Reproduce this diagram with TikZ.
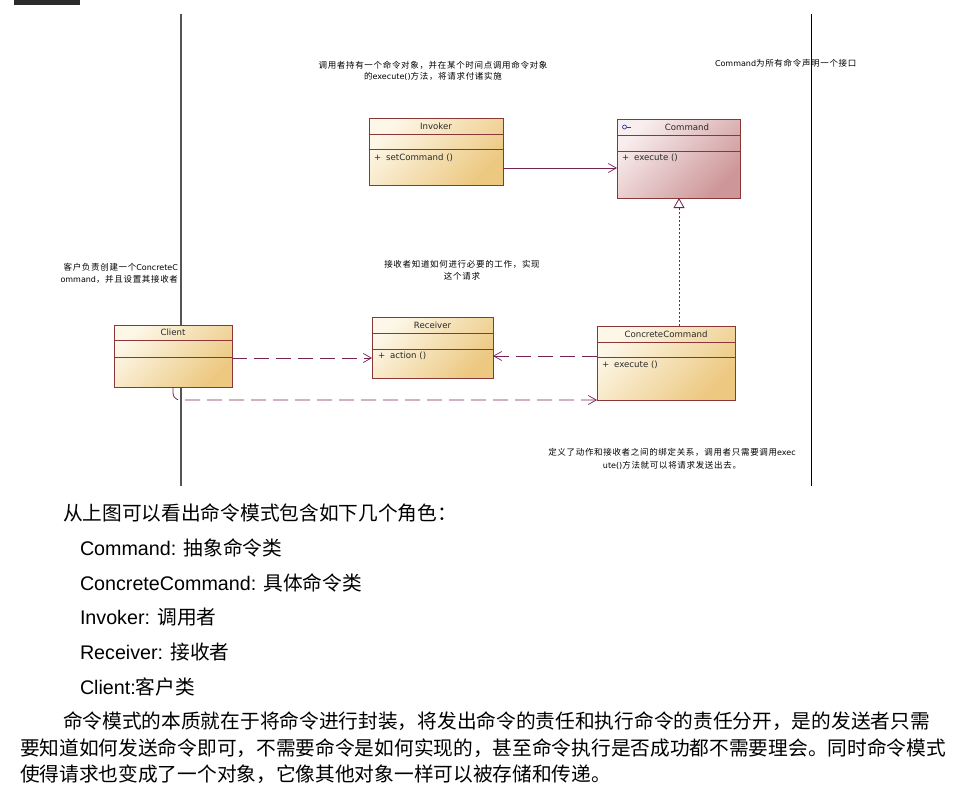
\documentclass[tikz,border=0pt]{standalone}
\usepackage{fontspec}
\setmainfont{Liberation Sans}
\newfontfamily\cjk{Noto Sans CJK SC}
\newfontfamily\cjknote[LetterSpace=8]{Noto Sans CJK SC}
\newfontfamily\uml{DejaVu Sans}
\usetikzlibrary{arrows.meta}

\definecolor{cream}{RGB}{253,247,232}
\definecolor{tan}{RGB}{236,200,128}
\definecolor{rosel}{RGB}{249,238,238}
\definecolor{rosed}{RGB}{205,150,152}
\definecolor{boxedge}{RGB}{140,55,55}
\definecolor{link}{RGB}{120,35,85}
\definecolor{ink}{RGB}{40,40,40}
\definecolor{bar}{RGB}{43,43,43}
\definecolor{rule}{RGB}{85,85,85}
\definecolor{iface}{RGB}{40,60,170}

\begin{document}
\begin{tikzpicture}[x=1pt,y=-1pt,
  every node/.style={inner sep=0pt, outer sep=0pt},
  classbox/.style={draw=boxedge, line width=0.9pt, rectangle, anchor=north west,
    top color=cream, bottom color=tan, shading angle=45},
  ifacebox/.style={classbox, top color=rosel, bottom color=rosed, shading angle=45},
  divider/.style={draw=boxedge, line width=0.9pt},
  classname/.style={font=\fontsize{8.6}{10}\selectfont\uml, text=ink},
  member/.style={font=\fontsize{8.6}{10}\selectfont\uml, text=ink, anchor=west},
  note/.style={font=\fontsize{8.5}{11}\selectfont\cjknote, text=black, anchor=base},
  body/.style={font=\fontsize{19.7}{24}\selectfont, text=black, anchor=base west},
  assoc/.style={draw=link, line width=0.8pt,
    -{Straight Barb[length=8pt,width=9pt,line width=0.7pt]}},
  dep/.style={assoc, dash pattern=on 15pt off 7pt},
  realize/.style={draw=link, line width=0.8pt, dash pattern=on 2pt off 2pt,
    -{Triangle[open,length=10pt,width=11pt,fill=white,line width=0.8pt]}}
]
% page
\path[use as bounding box, fill=white] (0,0) rectangle (958,793);
\fill[bar] (14,0) rectangle (80,5);

% swimlane rules
\draw[rule, line width=1.2pt] (181,14) -- (181,486);
\draw[black, line width=0.9pt] (811,14) -- (811,486);

% notes
\node[note] (n1a) at (433,68) {调用者持有一个命令对象，并在某个时间点调用命令对象};
\node[note] (n1b) at (433,79) {的{\uml\fontsize{8}{10}\selectfont execute()}方法，将请求付诸实施};
\node[note, anchor=base west] (n2) at (715,66) {{\uml\fontsize{8}{10}\selectfont Command}为所有命令声明一个接口};
\node[note, anchor=base east] (n3a) at (178,270) {客户负责创建一个{\uml\fontsize{8}{10}\selectfont ConcreteC}};
\node[note, anchor=base east] (n3b) at (178,282) {{\uml\fontsize{8}{10}\selectfont ommand}，并且设置其接收者};
\node[note] (n4a) at (462,267) {接收者知道如何进行必要的工作，实现};
\node[note] (n4b) at (462,279) {这个请求};
\node[note] (n5a) at (672,455) {定义了动作和接收者之间的绑定关系，调用者只需要调用{\uml\fontsize{8}{10}\selectfont exec}};
\node[note] (n5b) at (672,468) {{\uml\fontsize{8}{10}\selectfont ute()}方法就可以将请求发送出去。};

% Invoker
\node[classbox, minimum width=134pt, minimum height=67pt] (inv) at (369,118) {};
\draw[divider] ([yshift=-16pt]inv.north west) -- ([yshift=-16pt]inv.north east);
\draw[divider] ([yshift=-31pt]inv.north west) -- ([yshift=-31pt]inv.north east);
\node[classname] (invt) at ([yshift=-8pt]inv.north) {Invoker};
\node[member] (invm) at ([xshift=5pt,yshift=-40pt]inv.north west) {+\hspace{5pt}setCommand ()};

% Command
\node[ifacebox, minimum width=123pt, minimum height=79pt] (cmd) at (617,119) {};
\draw[divider] ([yshift=-16pt]cmd.north west) -- ([yshift=-16pt]cmd.north east);
\draw[divider] ([yshift=-32pt]cmd.north west) -- ([yshift=-32pt]cmd.north east);
\node[classname] (cmdt) at ([xshift=8.5pt,yshift=-8pt]cmd.north) {Command};
\draw[iface, line width=0.7pt] ([xshift=7.5pt,yshift=-8pt]cmd.north west) circle (2pt);
\draw[iface, line width=0.7pt] ([xshift=9.5pt,yshift=-8pt]cmd.north west) -- ([xshift=14pt,yshift=-8pt]cmd.north west);
\node[member] (cmdm) at ([xshift=5pt,yshift=-39pt]cmd.north west) {+\hspace{5pt}execute ()};

% Client
\node[classbox, minimum width=118pt, minimum height=62pt] (cl) at (114,325) {};
\draw[divider] ([yshift=-15pt]cl.north west) -- ([yshift=-15pt]cl.north east);
\draw[divider] ([yshift=-32pt]cl.north west) -- ([yshift=-32pt]cl.north east);
\node[classname] (clt) at ([yshift=-7.5pt]cl.north) {Client};

% Receiver
\node[classbox, minimum width=121pt, minimum height=61pt] (rcv) at (372,317) {};
\draw[divider] ([yshift=-16pt]rcv.north west) -- ([yshift=-16pt]rcv.north east);
\draw[divider] ([yshift=-32pt]rcv.north west) -- ([yshift=-32pt]rcv.north east);
\node[classname] (rcvt) at ([yshift=-8pt]rcv.north) {Receiver};
\node[member] (rcvm) at ([xshift=6pt,yshift=-39pt]rcv.north west) {+\hspace{5pt}action ()};

% ConcreteCommand
\node[classbox, minimum width=138pt, minimum height=74pt] (cc) at (597,326) {};
\draw[divider] ([yshift=-16pt]cc.north west) -- ([yshift=-16pt]cc.north east);
\draw[divider] ([yshift=-31pt]cc.north west) -- ([yshift=-31pt]cc.north east);
\node[classname] (cct) at ([yshift=-8pt]cc.north) {ConcreteCommand};
\node[member] (ccm) at ([xshift=5pt,yshift=-39pt]cc.north west) {+\hspace{5pt}execute ()};

% relations
\draw[assoc] ([yshift=-16.5pt]inv.east) -- ([yshift=-16.5pt]inv.east -| cmd.west);
\draw[realize] ([xshift=13pt]cc.north) -- ([xshift=13pt]cc.north |- cmd.south);
\draw[dep] ([yshift=7pt]cc.west) -- ([yshift=7pt]cc.west -| rcv.east);
\draw[dep] ([yshift=-2pt]cl.east) -- ([yshift=-2pt]cl.east -| rcv.west);
\draw[dep, rounded corners=7pt] (cl.south) |- (cc.south west);

% text below
\node[body] (roles) at (63,520.5) {\cjk 从上图可以看出命令模式包含如下几个角色：};
\node[body] (r1) at (80,555.5) {Command: {\cjk 抽象命令类}};
\node[body] (r2) at (80,590) {ConcreteCommand: {\cjk 具体命令类}};
\node[body] (r3) at (80,624.5) {Invoker: {\cjk 调用者}};
\node[body] (r4) at (80,659) {Receiver: {\cjk 接收者}};
\node[body] (r5) at (80,694) {Client:{\cjk 客户类}};
\node[body] (p1) at (63,728.5) {\cjk 命令模式的本质就在于将命令进行封装，将发出命令的责任和执行命令的责任分开，是的发送者只需};
\node[body] (p2) at (20,755.5) {\cjk 要知道如何发送命令即可，不需要命令是如何实现的，甚至命令执行是否成功都不需要理会。同时命令模式};
\node[body] (p3) at (20,781.5) {\cjk 使得请求也变成了一个对象，它像其他对象一样可以被存储和传递。};
\end{tikzpicture}
\end{document}
